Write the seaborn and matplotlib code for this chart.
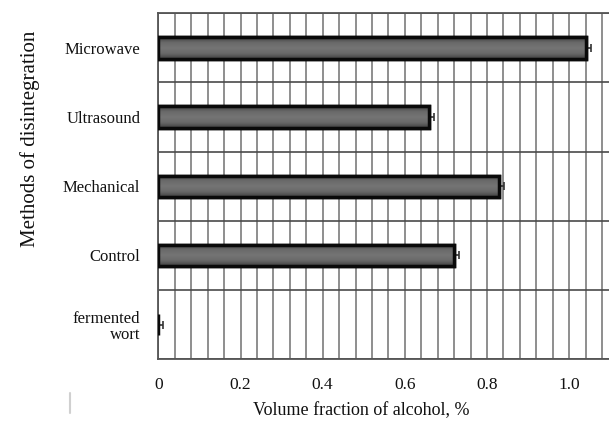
import numpy as np
import pandas as pd
import matplotlib
matplotlib.use("Agg")
import matplotlib.pyplot as plt
from matplotlib.lines import Line2D
from matplotlib.colors import LinearSegmentedColormap
import seaborn as sns

# Data
methods = ["Microwave", "Ultrasound", "Mechanical", "Control", "fermented\nwort"]
alcohol = [1.04, 0.66, 0.83, 0.72, 0.0]
alcohol_err = [0.012, 0.010, 0.012, 0.012, 0.012]
x_ticks = [0, 0.2, 0.4, 0.6, 0.8, 1.0]
x_tick_labels = ["0", "0.2", "0.4", "0.6", "0.8", "1.0"]

sns.set_theme(style="white")
plt.rcParams["font.family"] = ["Liberation Serif", "DejaVu Serif"]

df = pd.DataFrame({"method": methods, "alcohol": alcohol})

fig = plt.figure(figsize=(6.09, 4.21), dpi=100)
ax = fig.add_axes([0.26, 0.1466, 0.74, 0.8218])

sns.barplot(data=df, x="alcohol", y="method", orient="h", order=methods,
            color="#6b6b6b", edgecolor="#0a0a0a", linewidth=2.5,
            width=0.31, errorbar=None, saturation=1, ax=ax, zorder=3)

# soft shading inside each bar: lighter in the middle, darker toward the rim
shade = LinearSegmentedColormap.from_list("shade", ["#404040", "#6a6a6a", "#757575", "#6a6a6a", "#404040"])
grad = np.linspace(0, 1, 64).reshape(-1, 1)
for bar in ax.patches:
    w = bar.get_width()
    if w <= 0:
        continue
    x0, y0, h = bar.get_x(), bar.get_y(), bar.get_height()
    img = ax.imshow(grad, cmap=shade, aspect="auto", interpolation="bicubic",
                    extent=(x0, x0 + w, y0 + h, y0), zorder=3.1)
    img.set_clip_path(bar)
    edge = plt.Rectangle((x0, y0), w, h, fill=False, edgecolor="#0a0a0a",
                         linewidth=2.5, zorder=3.2)
    ax.add_patch(edge)

# error bars sit behind the bars, so only the outer half shows
ax.errorbar(alcohol, np.arange(len(methods)), xerr=alcohol_err, fmt="none",
            ecolor="#333333", elinewidth=1.2, capsize=2.8, capthick=1.2, zorder=2.5)

# Axes limits and ticks
ax.set_xlim(0, 1.097)
ax.set_ylim(len(methods) - 0.5, -0.5)
ax.set_xticks(x_ticks)
ax.set_xticklabels(x_tick_labels, fontsize=12.5)
ax.set_xticks(np.arange(0, 1.097, 0.04), minor=True)
ax.set_yticks(np.arange(len(methods)))
ax.set_yticklabels(methods, fontsize=12, linespacing=1.05)
ax.set_yticks(np.arange(-0.5, len(methods), 1.0), minor=True)
ax.tick_params(axis="both", which="both", length=0)
ax.tick_params(axis="x", pad=13, colors="#111111")
ax.tick_params(axis="y", pad=13, colors="#111111")

# Grid: fine vertical lines and category separators
ax.set_axisbelow(True)
ax.grid(True, which="minor", axis="x", color="#707070", linewidth=1.1)
ax.grid(True, which="major", axis="x", color="#707070", linewidth=1.1)
ax.grid(True, which="minor", axis="y", color="#4a4a4a", linewidth=1.2)
ax.grid(False, which="major", axis="y")

for side in ["left", "top", "bottom"]:
    ax.spines[side].set_visible(True)
    ax.spines[side].set_color("#555555")
    ax.spines[side].set_linewidth(1.3)
ax.spines["right"].set_visible(False)

ax.set_xlabel("Volume fraction of alcohol, %", fontsize=13, color="#111111",
              va="center")
ax.set_ylabel("Methods of disintegration", fontsize=15, color="#111111")
ax.xaxis.set_label_coords(0.451, -0.147)
ax.yaxis.set_label_coords(-0.263, 0.637)

# faint mark in the lower left corner
fig.add_artist(Line2D([70 / 609, 70 / 609], [1 - 393 / 421, 1 - 413 / 421],
                      transform=fig.transFigure, color="#d0d0d0", linewidth=1.5))

fig.savefig("out.png", dpi=100)
